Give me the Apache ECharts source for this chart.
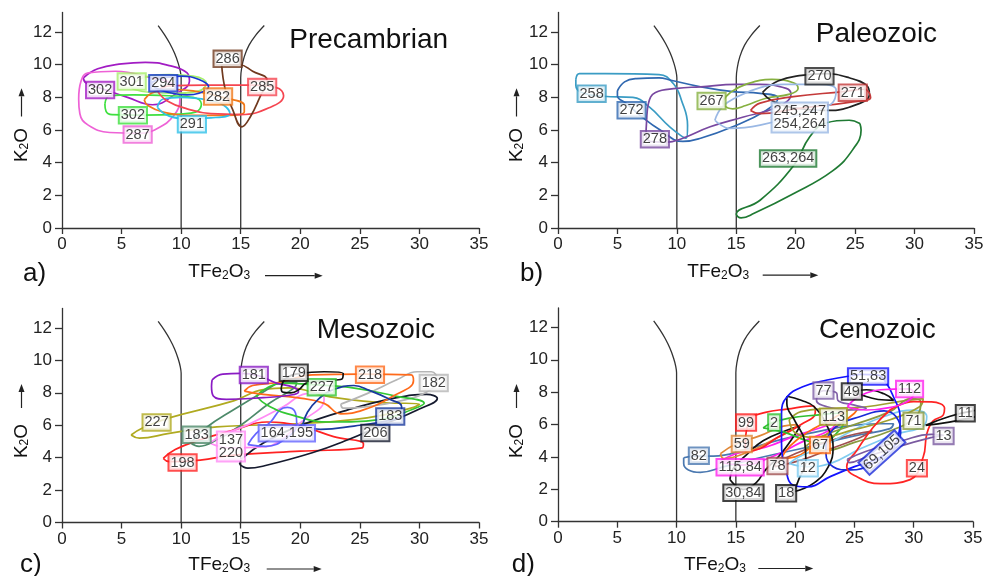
<!DOCTYPE html>
<html><head><meta charset="utf-8">
<script src="https://cdn.jsdelivr.net/npm/echarts@6/dist/echarts.min.js"></script>
<style>html,body{margin:0;padding:0;background:#fff}#c{width:989px;height:576px}</style>
</head><body><div id="c"></div><script>
// ---------------- shared ----------------
const X_TICKS = [0, 5, 10, 15, 20, 25, 30, 35];
const Y_TICKS = [0, 2, 4, 6, 8, 10, 12];
const BOUNDARY_LEFT = [[8.07,12.4],[8.6,11.85],[9.05,11.3],[9.45,10.7],[9.75,10.1],[9.93,9.6],[10,9.2],[10,0]];
const BOUNDARY_RIGHT = [[15,0],[15,9.2],[15.08,9.8],[15.3,10.5],[15.7,11.2],[16.25,11.8],[16.98,12.4]];

// ---------------- a) Precambrian ----------------
const A_302_PURPLE = [[1.8,9.2],[3,9.75],[5,10.05],[7,10.15],[9,9.95],[10.5,9.5],[10.7,9.0],[9.5,8.2],[7.6,7.55],[5.5,8.0],[3.5,8.5],[2.0,8.9],[1.8,9.2]];
const A_287_PINK = [[1.4,7.9],[1.6,9.0],[2.2,9.5],[4.5,9.6],[7.5,9.2],[9.3,8.8],[9.9,7.9],[9.4,6.9],[8,6.1],[6.5,5.8],[4,5.85],[2.2,6.3],[1.5,7.0],[1.4,7.9]];
const A_302_GREEN = [[3.6,7.6],[4.0,8.1],[6,8.15],[9,8.1],[11,8.0],[11.7,7.6],[11.2,7.1],[9,6.95],[6,6.92],[4.2,6.95],[3.7,7.15],[3.6,7.6]];
const A_301_LIME = [[5.8,8.7],[7,9.25],[9,9.4],[11,9.3],[12.1,8.85],[11.5,8.4],[9.5,8.25],[7.5,8.3],[6,8.5],[5.8,8.7]];
const A_282_ORANGE = [[6.9,7.85],[7.5,8.25],[9,8.5],[11,8.4],[13.5,8.0],[15.3,7.5],[15.3,7.1],[13.5,6.9],[11,6.9],[8.5,7.1],[7.2,7.5],[6.9,7.85]];
const A_291_CYAN = [[8.0,7.4],[8.5,7.9],[10,8.0],[12.5,7.8],[13.6,7.5],[14.1,7.0],[12.5,6.75],[10.5,6.7],[9,6.85],[8.0,7.4]];
const A_285_RED = [[8.0,8.4],[9,8.7],[12,8.75],[16,8.75],[18,8.6],[18.6,8.1],[17.5,7.4],[15,6.95],[12.5,7.0],[10.5,7.3],[8.8,7.8],[8.0,8.4]];
const A_294_BLUE = [[7.5,8.9],[8.5,9.2],[10,9.3],[11.5,9.1],[12.3,8.65],[11.5,8.25],[10.5,8.15],[9,8.3],[7.8,8.6],[7.5,8.9]];
const A_286_BROWN = [[13.4,10.0],[13.7,8.5],[14.3,7.3],[15.1,6.2],[15.8,6.8],[16.6,8.0],[17.2,9.05],[16,9.6],[14.9,10.0],[13.4,10.0]];
const A_LOOPS = [A_302_PURPLE, A_287_PINK, A_302_GREEN, A_301_LIME, A_282_ORANGE, A_291_CYAN, A_285_RED, A_294_BLUE, A_286_BROWN];
const A_TAGS = ['302', '287', '302', '301', '282', '291', '285', '294', '286'];
const A_TAG_XY = [[3.2,8.45],[6.35,5.72],[5.95,6.9],[5.85,8.97],[13.1,8.05],[10.9,6.36],[16.8,8.63],[8.5,8.87],[13.9,10.36]];

// ---------------- b) Paleozoic ----------------
const B_258 = [[1.5,9.1],[1.8,9.45],[4,9.45],[8.5,9.4],[9.7,8.85],[10.4,7.8],[10.9,6.3],[10.8,5.5],[9.4,6.2],[7.7,7.4],[6.3,8.0],[3.8,8.07],[2.0,8.3],[1.5,8.75],[1.5,9.1]];
const B_272 = [[5.0,8.4],[5.6,8.95],[6.6,9.15],[8.5,9.2],[9.5,9.05],[12,8.65],[14.7,8.35],[17,8.25],[18.5,7.95],[17.5,7.2],[14.7,6.2],[12,5.5],[10.5,5.3],[8.6,6.0],[6.9,6.9],[5.8,7.6],[5.0,8.1],[5.0,8.4]];
const B_278 = [[7.4,5.6],[7.45,6.5],[7.6,7.6],[8.2,8.3],[10,8.55],[12,8.65],[15,8.8],[17,8.8],[19.2,8.55],[19.6,8.2],[18.4,7.4],[15.6,6.8],[12.8,6.2],[10.5,5.5],[9.1,5.25],[7.8,5.3],[7.4,5.6]];
const B_267 = [[13.9,7.8],[14.5,8.3],[15.8,8.8],[18,9.1],[19.8,8.9],[20.2,8.55],[19.5,8.2],[17.5,7.95],[15.8,7.5],[14.7,7.3],[14,7.5],[13.9,7.8]];
const B_270 = [[17.2,8.3],[18.5,9.0],[20.5,9.35],[22.5,9.45],[24.5,9.2],[26.0,8.7],[26.2,8.2],[24.5,7.4],[22.5,7.2],[20,7.35],[18,7.8],[17.2,8.3]];
const B_271 = [[16.2,7.2],[17,7.65],[19.8,8.05],[24,8.35],[25.8,8.5],[26.3,8.0],[24.5,7.7],[20,7.3],[17,7.0],[16.2,7.2]];
const B_245 = [[13.2,6.6],[13.8,7.4],[15,8.0],[17,8.6],[19,8.8],[22,8.8],[23.4,8.45],[23,7.6],[20.5,7.0],[17,6.3],[14.5,6.1],[13.2,6.6]];
const B_263 = [[25.4,6.4],[24.5,6.6],[22.6,6.45],[21.2,5.6],[19.8,3.8],[17,1.7],[15,0.85],[15.4,0.62],[16.5,0.9],[19.8,2.1],[23.1,3.5],[24.8,4.8],[25.5,6.0],[25.4,6.4]];
const B_LOOPS = [B_258, B_272, B_278, B_267, B_270, B_271, B_245, B_263];
const B_TAGS = ['258', '272', '278', '267', '270', '271', '245,247\n254,264', '263,264'];
const B_TAG_XY = [[2.83,8.23],[6.19,7.21],[8.15,5.44],[12.92,7.78],[22.0,9.29],[24.8,8.29],[20.34,6.77],[19.36,4.26]];

// ---------------- c) Mesozoic ----------------
const C_227_OLIVE = [[5.8,5.4],[6.8,5.85],[9.0,6.45],[14.4,7.5],[16.9,8.2],[19,8.3],[22.5,7.75],[26.7,7.4],[30,7.3],[29.5,7.1],[25.6,6.45],[20,6.1],[13,5.9],[9,5.5],[6.5,5.2],[5.8,5.4]];
const C_183_TEAL = [[10.8,4.9],[12,5.8],[14.5,7.0],[17,8.1],[18.3,8.6],[19.7,8.65],[19.5,8.3],[17.5,7.4],[15,6.0],[13,5.1],[11.5,4.7],[10.8,4.9]];
const C_198_RED = [[8.5,3.95],[9.5,4.5],[11.6,5.1],[14.4,5.7],[17.2,6.2],[20,5.95],[22.8,5.3],[25.3,4.85],[25.2,4.6],[20,4.4],[14.4,4.15],[11.6,3.85],[9,3.75],[8.5,3.95]];
const C_206_BLACK = [[14.9,3.6],[15.6,3.35],[17,3.5],[21,4.3],[24,5.1],[26.7,5.95],[30,7.0],[31.5,7.65],[30.6,7.9],[28.1,7.7],[24,6.95],[19.7,5.9],[16.9,4.9],[15.2,4.0],[14.9,3.6]];
const C_137_PINK = [[12.4,4.9],[13.5,5.4],[15.8,6.1],[18.6,7.15],[20.5,7.95],[21.7,8.0],[22,7.6],[20,6.15],[18,4.9],[16.6,4.65],[14,4.6],[12.4,4.9]];
const C_164_PERI = [[15.6,4.8],[16.3,5.5],[17.5,6.2],[18.3,6.95],[18.9,7.1],[19.6,6.75],[19.7,6.1],[19,5.3],[17.1,4.7],[15.6,4.8]];
const C_182_GRAY = [[23.4,7.3],[25.6,7.95],[28.1,8.8],[29.8,9.3],[31,9.3],[31.5,8.8],[30.5,8.0],[28.1,7.45],[25.6,7.15],[23.6,7.05],[23.4,7.3]];
const C_227_GREEN = [[16.3,7.8],[17.2,8.3],[18.5,8.6],[21,8.5],[24,8.35],[28,7.8],[30.4,7.35],[29.5,7.0],[26.7,6.35],[22.5,6.2],[19.2,6.65],[17.2,7.25],[16.3,7.8]];
const C_218_ORANGE = [[15.3,8.1],[16,8.45],[18.3,8.65],[19.5,8.9],[21,9.1],[25,9.15],[29.3,9.1],[29.5,8.75],[27.8,7.8],[25.3,6.95],[23.4,6.7],[22,7.35],[19.7,7.7],[16.9,7.9],[15.3,8.1]];
const C_183_NAVY = [[20.2,6.0],[20.6,6.8],[21.5,7.6],[22.8,8.2],[24.5,8.45],[25.8,8.15],[27.5,7.6],[28.5,7.15],[28.5,6.6],[27.5,6.3],[24.5,5.95],[21.7,5.75],[20.2,6.0]];
const C_181_PURPLE = [[12.6,8.8],[13.5,9.15],[15,9.2],[16.5,9.05],[18,8.6],[19.4,8.35],[19.85,8.05],[19.1,7.85],[16.9,7.7],[13.8,7.6],[12.7,7.8],[12.55,8.4],[12.6,8.8]];
const C_179_BLACK = [[18.4,8.3],[18.8,8.9],[20,9.2],[22,9.3],[23.6,9.2],[23.5,8.85],[22,8.75],[20.5,8.6],[19.9,8.2],[19.2,8.0],[18.5,8.05],[18.4,8.3]];
const C_LOOPS = [C_227_OLIVE, C_183_TEAL, C_198_RED, C_206_BLACK, C_137_PINK, C_164_PERI, C_182_GRAY, C_227_GREEN, C_218_ORANGE, C_183_NAVY, C_181_PURPLE, C_179_BLACK];
const C_TAGS = ['227', '183', '198', '206', '137\n220', '164,195', '182', '227', '218', '183', '181', '179'];
const C_TAG_XY = [[7.94,6.17],[11.3,5.41],[10.12,3.7],[26.3,5.52],[14.18,4.69],[18.87,5.5],[31.2,8.6],[21.8,8.35],[25.85,9.12],[27.55,6.54],[16.1,9.1],[19.45,9.24]];

// ---------------- d) Cenozoic ----------------
const D_82 = [[10.6,3.95],[11.5,4.05],[13.1,4.05],[16,4.5],[18.7,5.05],[21.5,5.5],[24.4,5.9],[27,6.05],[28.3,6.05],[28,5.75],[25,5.3],[21,4.6],[17,3.95],[14,3.4],[12,3.05],[11,3.2],[10.6,3.6],[10.6,3.95]];
const D_115 = [[13.6,3.7],[15,4.2],[17.5,4.6],[20,5.3],[22.5,5.9],[23.5,6.2],[23,5.7],[20.5,4.9],[18,4.0],[15.5,3.5],[13.6,3.7]];
const D_30 = [[14.5,2.6],[14.8,3.3],[16,4.2],[17.3,5.0],[19.3,5.65],[20.4,5.9],[20,5.4],[18.7,4.1],[17.5,3.2],[16.7,2.4],[15.6,2.0],[14.5,2.6]];
const D_59 = [[13.7,4.2],[15,4.8],[17,5.3],[19,5.9],[20.2,6.0],[19.8,5.7],[18,5.0],[16,4.3],[14,3.9],[13.7,4.2]];
const D_99 = [[15.8,4.8],[16.2,6.3],[17.5,6.75],[19.3,6.95],[21.5,7.15],[21.7,6.75],[20.5,6.0],[18.5,5.2],[17,4.5],[15.8,4.3],[15.8,4.8]];
const D_2 = [[17.3,5.8],[18,6.1],[19.5,6.4],[22,6.6],[23.6,6.7],[24.1,6.3],[23.8,5.7],[22.1,4.85],[21,5.0],[19,5.55],[17.3,5.8]];
const D_78 = [[18.3,3.6],[20,4.2],[22.5,4.9],[25,5.4],[26.5,5.6],[25.5,5.2],[23,4.5],[20.5,3.8],[18.3,3.4],[18.3,3.6]];
const D_67 = [[18.8,3.9],[19.6,4.7],[21,5.5],[23,6.3],[24.5,6.9],[25.3,7.05],[25,6.7],[23,5.6],[21.5,4.7],[20,4.0],[18.8,3.9]];
const D_12 = [[19.5,3.6],[21,3.4],[23,3.6],[25.5,4.5],[28.5,5.4],[30.8,5.9],[31.1,6.5],[30,6.9],[27.5,6.5],[25,5.7],[22.5,4.7],[20.3,4.0],[19.5,3.6]];
const D_113 = [[19.5,6.3],[20.5,6.8],[23,7.0],[26,7.1],[29,7.45],[30.8,7.6],[30.5,7.1],[28,6.3],[25,5.7],[22,5.2],[20,5.5],[19.5,6.3]];
const D_71 = [[20.8,4.6],[22,5.2],[25,6.0],[28,6.8],[29.8,7.6],[30.6,7.4],[30.2,6.5],[28,5.6],[25,4.9],[22.5,4.4],[20.8,4.6]];
const D_18 = [[19.3,7.75],[20.5,7.5],[21.6,7.1],[22.7,5.9],[23.2,4.6],[22.8,3.4],[21.6,2.4],[19.9,1.85],[20.3,2.6],[20.9,3.8],[20.8,5.0],[20.0,6.2],[19.3,7.3],[19.3,7.75]];
const D_51 = [[24.6,9.0],[22.7,8.75],[20.7,8.35],[19.3,7.7],[18.85,6.7],[18.85,4.85],[19.15,3.4],[19.85,2.25],[21,2.15],[23,2.8],[25,3.4],[27.2,4.0],[28.6,5.05],[28.85,6.5],[28.3,7.7],[27.7,8.55],[27,9.05],[25.5,9.1],[24.6,9.0]];
const D_69 = [[22.6,5.0],[23.5,5.9],[25.5,6.5],[27.5,6.85],[28.5,6.5],[28.9,5.5],[27.8,4.3],[26,3.4],[24.5,3.2],[23.2,3.4],[22.6,4.2],[22.6,5.0]];
const D_24 = [[28,6.9],[30,7.42],[31.5,7.4],[32.6,7.0],[32.5,6.6],[31.6,6.2],[31.1,5.4],[30.8,4.0],[29.7,2.6],[27.2,2.35],[25,2.85],[24.35,3.4],[25.2,4.4],[26.6,5.85],[28,6.9]];
const D_13 = [[24.4,3.85],[26,4.35],[29,5.0],[31.5,5.4],[32.5,5.35],[31.5,5.2],[29,4.7],[26,4.0],[24.6,3.65],[24.4,3.85]];
const D_77 = [[21.9,7.9],[21.8,7.5],[22.7,7.1],[24.9,6.9],[26,7.0],[25,7.2],[23.6,7.5],[23.5,7.95],[22.4,8.1],[21.9,7.9]];
const D_49 = [[24.8,8.05],[26,8.15],[27.5,7.9],[28.3,7.5],[27,7.55],[25.5,7.85],[24.8,8.05]];
const D_112 = [[24.4,7.1],[25,7.55],[26,7.95],[27.2,8.15],[29.6,8.2],[30,7.9],[29.4,7.4],[28.3,7.1],[26,6.9],[24.4,7.1]];
const D_11 = [[31,5.95],[33,6.5],[35,6.85],[36.5,7.05],[36.5,6.7],[35,6.45],[33,6.15],[31,5.95]];
const D_LOOPS = [D_82, D_115, D_30, D_59, D_99, D_2, D_78, D_67, D_12, D_113, D_71, D_18, D_51, D_69, D_24, D_13, D_77, D_49, D_112, D_11];
const D_TAGS = ['82', '115,84', '30,84', '59', '99', '2', '78', '67', '12', '113', '71', '18', '51,83', '69,105', '24', '13', '77', '49', '112', '11'];
const D_TAG_XY = [[11.88,4.08],[15.36,3.36],[15.64,1.79],[15.5,4.8],[15.86,6.12],[18.23,6.12],[18.51,3.44],[22.1,4.74],[21.07,3.3],[23.23,6.49],[29.98,6.23],[19.24,1.75],[26.15,8.97],[27.32,4.27],[30.27,3.3],[32.52,5.3],[22.39,8.1],[24.78,8.04],[29.65,8.19],[34.35,6.7]];

// ---------------- styles (kept apart from data) ----------------
const A_COLORS = ['#a21cc4','#ee62d6','#3fe03f','#a6ee6c','#f07818','#30c0e8','#f54550','#1838d0','#70391e'];
const B_COLORS = ['#3a9cc4','#3068b0','#7848a0','#86b040','#222222','#c43a3a','#9ab8e4','#1f7a33'];
const C_COLORS = ['#b0aa20','#4d8a6a','#ff2222','#151a2e','#ff8cf5','#6464ff','#b5b5b5','#33c733','#ff6a1a','#1a3a9e','#8a1bc4','#111111'];
const D_COLORS = ['#4a78b0','#ff20ee','#111111','#e08838','#ff2020','#30c030','#a05050','#ff6a10','#80ccf0','#a0a030','#8a9a40','#111111','#1212ff','#1a2ad8','#ff2424','#7a5aa0','#8060a8','#111111','#ff20ee','#111111'];
const FONT = '"Liberation Sans", Arial, Helvetica, sans-serif';

const GRIDS = [
  {left: 62, top: 12.5, width: 417, height: 215.5},
  {left: 558, top: 12.5, width: 416, height: 215.5},
  {left: 62, top: 308.5, width: 417, height: 214},
  {left: 558, top: 308, width: 415, height: 213.7}
];

const axisLineStyle = {color: '#333', width: 1.3};
const xAxes = GRIDS.map((g, i) => ({
  type: 'value', gridIndex: i, min: 0, max: 35, interval: 5,
  axisLine: {show: true, onZero: false, lineStyle: axisLineStyle},
  axisTick: {show: true, length: 6, lineStyle: axisLineStyle},
  axisLabel: {fontSize: 17, color: '#222', margin: 8, fontFamily: FONT},
  splitLine: {show: false}
}));
const yAxes = GRIDS.map((g, i) => ({
  type: 'value', gridIndex: i, min: 0, max: 13.2, interval: 2,
  axisLine: {show: true, onZero: false, lineStyle: axisLineStyle},
  axisTick: {show: true, length: 7, lineStyle: axisLineStyle, customValues: Y_TICKS},
  axisLabel: {fontSize: 17, color: '#222', margin: 10, fontFamily: FONT, customValues: Y_TICKS,
    formatter: v => (Math.abs(v % 2) < 1e-9 ? String(v) : '')},
  splitLine: {show: false}
}));

const series = [];
function addPanel(gi, loops, colors, tags, tagXY, rotMap) {
  [BOUNDARY_LEFT, BOUNDARY_RIGHT].forEach(b => series.push({
    type: 'line', xAxisIndex: gi, yAxisIndex: gi, data: b, smooth: 0.35, symbol: 'none',
    lineStyle: {color: '#333', width: 1.3}, silent: true, z: 2, clip: false
  }));
  loops.forEach((pts, k) => series.push({
    type: 'line', xAxisIndex: gi, yAxisIndex: gi, data: pts, smooth: 0.45, symbol: 'none',
    lineStyle: {color: colors[k], width: 1.7}, silent: true, z: 3, clip: false
  }));
  series.push({
    type: 'scatter', xAxisIndex: gi, yAxisIndex: gi, symbolSize: 1, z: 10, silent: true,
    itemStyle: {color: 'rgba(0,0,0,0)'},
    label: {show: true, position: 'inside', fontSize: 14.5, fontFamily: FONT, color: '#111',
      backgroundColor: '#fff', borderWidth: 2, padding: [1, 1, 0, 1], lineHeight: 13.5},
    data: tags.map((t, k) => ({
      value: tagXY[k],
      label: Object.assign({formatter: t, borderColor: colors[k]}, rotMap && rotMap[k] ? {rotate: rotMap[k]} : {})
    }))
  });
}
addPanel(0, A_LOOPS, A_COLORS, A_TAGS, A_TAG_XY);
addPanel(1, B_LOOPS, B_COLORS, B_TAGS, B_TAG_XY);
addPanel(2, C_LOOPS, C_COLORS, C_TAGS, C_TAG_XY);
addPanel(3, D_LOOPS, D_COLORS, D_TAGS, D_TAG_XY, {13: 42});

// ---------------- decorations ----------------
const TITLES = ['Precambrian', 'Paleozoic', 'Mesozoic', 'Cenozoic'];
const PANEL_LETTERS = ['a)', 'b)', 'c)', 'd)'];
const graphic = [];
function txt(x, y, text, size, opts) {
  return Object.assign({type: 'text', x: x, y: y, silent: true, z: 20,
    style: Object.assign({text: text, fontSize: size, fontFamily: FONT, fill: '#111',
      align: 'left', textAlign: 'left', verticalAlign: 'middle', textVerticalAlign: 'middle'}, (opts && opts.style) || {})},
    (opts && opts.el) || {});
}
function arrow(x1, y1, x2, y2) {
  const L = Math.hypot(x2 - x1, y2 - y1), ux = (x2 - x1) / L, uy = (y2 - y1) / L;
  const hl = 8, hw = 3;
  const bx = x2 - ux * hl, by = y2 - uy * hl;
  graphic.push({type: 'line', silent: true, z: 20, shape: {x1: x1, y1: y1, x2: bx, y2: by}, style: {stroke: '#222', lineWidth: 1.2}});
  graphic.push({type: 'polygon', silent: true, z: 20, shape: {points: [[x2, y2], [bx - uy * hw, by + ux * hw], [bx + uy * hw, by - ux * hw]]}, style: {fill: '#222'}});
}
const TITLE_POS = [[289.3, 40], [815.7, 34.5], [316.7, 330.3], [819, 330.7]];
const LETTER_POS = [[23, 273.5], [520, 273.5], [20, 565], [511.7, 565]];
const XNAME_POS = [[188.3, 272], [687.3, 272], [188.3, 565.2], [684, 565.2]];
const XARROW = [[265, 275.7, 322.7, 275.7], [762.7, 275.2, 818.3, 275.2], [266.7, 569, 321.7, 569], [758.3, 568.5, 813.3, 568.5]];
const YNAME_POS = [[21.5, 145], [516.5, 145], [21.5, 441], [516.5, 441]];
const YARROW = [[21.5, 116.5, 21.5, 88.3], [516.5, 116.5, 516.5, 88.3], [21.5, 408, 21.5, 384], [516.5, 408, 516.5, 384]];
for (let i = 0; i < 4; i++) {
  graphic.push(txt(TITLE_POS[i][0], TITLE_POS[i][1], TITLES[i], 28));
  graphic.push(txt(LETTER_POS[i][0], LETTER_POS[i][1], PANEL_LETTERS[i], 26));
  graphic.push(txt(XNAME_POS[i][0], XNAME_POS[i][1], 'TFe{s|2}O{s|3}', 19,
    {style: {rich: {s: {fontSize: 12, fontFamily: FONT, fill: '#111', verticalAlign: 'bottom', padding: [0, 0, 0, 0]}}}}));
  graphic.push(txt(YNAME_POS[i][0], YNAME_POS[i][1], 'K{s|2}O', 19,
    {style: {align: 'center', textAlign: 'center', rich: {s: {fontSize: 12, fontFamily: FONT, fill: '#111', verticalAlign: 'bottom'}}},
     el: {rotation: Math.PI / 2}}));
  arrow.apply(null, XARROW[i]);
  arrow.apply(null, YARROW[i]);
}

const chart = echarts.init(document.getElementById('c'), null, {renderer: 'canvas'});
chart.setOption({
  animation: false,
  backgroundColor: '#fff',
  textStyle: {fontFamily: FONT},
  grid: GRIDS,
  xAxis: xAxes,
  yAxis: yAxes,
  series: series,
  graphic: {elements: graphic}
});
</script></body></html>
